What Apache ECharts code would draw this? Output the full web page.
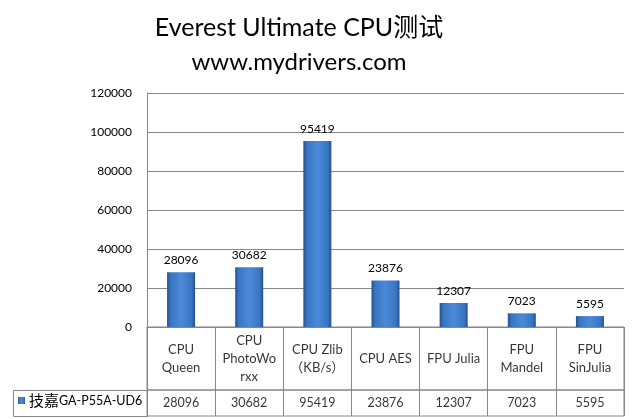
<!DOCTYPE html>
<html><head><meta charset="utf-8">
<script src="https://cdn.jsdelivr.net/npm/echarts@6/dist/echarts.min.js"></script>
<style>html,body{margin:0;padding:0;background:#fff}#c{width:637px;height:419px}</style>
</head><body><div id="c"></div>
<script>
var categories = ['CPU\nQueen', 'CPU\nPhotoWo\nrxx', 'CPU Zlib\n（KB/s）', 'CPU AES', 'FPU Julia', 'FPU\nMandel', 'FPU\nSinJulia'];
var values = [28096, 30682, 95419, 23876, 12307, 7023, 5595];
var seriesName = '技嘉GA-P55A-UD6';
var yTicks = { min: 0, max: 120000, interval: 20000 };

var FONT = "Lato, 'Noto Sans CJK SC', sans-serif";
var LINE = '#868686';
var chart = echarts.init(document.getElementById('c'));
var barColor = new echarts.graphic.LinearGradient(0, 0, 1, 0, [
  { offset: 0, color: '#244f8a' },
  { offset: 0.12, color: '#3a74c0' },
  { offset: 0.5, color: '#4a8ad8' },
  { offset: 0.88, color: '#3a74c0' },
  { offset: 1, color: '#244f8a' }
]);
var rowData = categories.map(function (c, i) { return [i, 0.5]; });

chart.setOption({
  animation: false,
  backgroundColor: '#fff',
  title: [
    { text: 'Everest Ultimate CPU测试', left: 294, top: 10, textAlign: 'center',
      textStyle: { fontFamily: FONT, fontSize: 25, fontWeight: 'normal', color: '#000' } },
    { text: 'www.mydrivers.com', left: 294, top: 45, textAlign: 'center',
      textStyle: { fontFamily: FONT, fontSize: 24, fontWeight: 'normal', color: '#000' } }
  ],
  legend: {
    data: [seriesName], left: 18, top: 393, padding: 0, itemWidth: 7, itemHeight: 7,
    icon: 'rect', selectedMode: false,
    formatter: function () { return '{a|技嘉}{b|GA-P55A-UD6}'; },
    textStyle: { fontFamily: FONT, color: '#000', padding: [0, 0, 0, -1],
      rich: { a: { fontFamily: "'Noto Sans CJK SC'", fontSize: 15, color: '#000' },
              b: { fontFamily: FONT, fontSize: 12.5, color: '#000' } } }
  },
  graphic: [
    { type: 'rect', shape: { x: 13.5, y: 390.5, width: 134, height: 26 },
      style: { fill: 'none', stroke: LINE, lineWidth: 1 } }
  ],
  grid: [
    { left: 147, right: 13, top: 93, height: 234 },
    { left: 147, right: 13, top: 327, height: 63, show: true, borderColor: LINE, borderWidth: 1 },
    { left: 147, right: 13, top: 390, height: 26, show: true, borderColor: LINE, borderWidth: 1 }
  ],
  xAxis: [
    { gridIndex: 0, type: 'category', data: categories, axisLabel: { show: false },
      axisTick: { show: false }, axisLine: { lineStyle: { color: LINE } } },
    { gridIndex: 1, type: 'category', data: categories, axisLabel: { show: false },
      axisTick: { show: false }, axisLine: { show: false },
      splitLine: { show: true, interval: 0, lineStyle: { color: LINE } } },
    { gridIndex: 2, type: 'category', data: categories, axisLabel: { show: false },
      axisTick: { show: false }, axisLine: { show: false },
      splitLine: { show: true, interval: 0, lineStyle: { color: LINE } } }
  ],
  yAxis: [
    { gridIndex: 0, type: 'value', min: yTicks.min, max: yTicks.max, interval: yTicks.interval,
      axisLine: { show: true, lineStyle: { color: LINE } }, axisTick: { show: false },
      splitLine: { lineStyle: { color: LINE } },
      axisLabel: { margin: 15, fontFamily: FONT, fontSize: 12, color: '#000',
        formatter: function (v) { return String(v); } } },
    { gridIndex: 1, type: 'value', min: 0, max: 1, show: false },
    { gridIndex: 2, type: 'value', min: 0, max: 1, show: false }
  ],
  series: [
    { name: seriesName, type: 'bar', xAxisIndex: 0, yAxisIndex: 0, data: values, barWidth: 28,
      itemStyle: { color: barColor },
      label: { show: true, position: 'top', distance: 6, fontFamily: FONT, fontSize: 12, color: '#000' } },
    { type: 'scatter', xAxisIndex: 1, yAxisIndex: 1, data: rowData, symbolSize: 0, silent: true,
      label: { show: true, position: 'inside', fontFamily: FONT, fontSize: 13, lineHeight: 18, color: '#000',
        formatter: function (p) { return categories[p.dataIndex]; } } },
    { type: 'scatter', xAxisIndex: 2, yAxisIndex: 2, data: rowData, symbolSize: 0, silent: true,
      label: { show: true, position: 'inside', fontFamily: FONT, fontSize: 12.5, color: '#000',
        formatter: function (p) { return String(values[p.dataIndex]); } } }
  ]
});
</script></body></html>
